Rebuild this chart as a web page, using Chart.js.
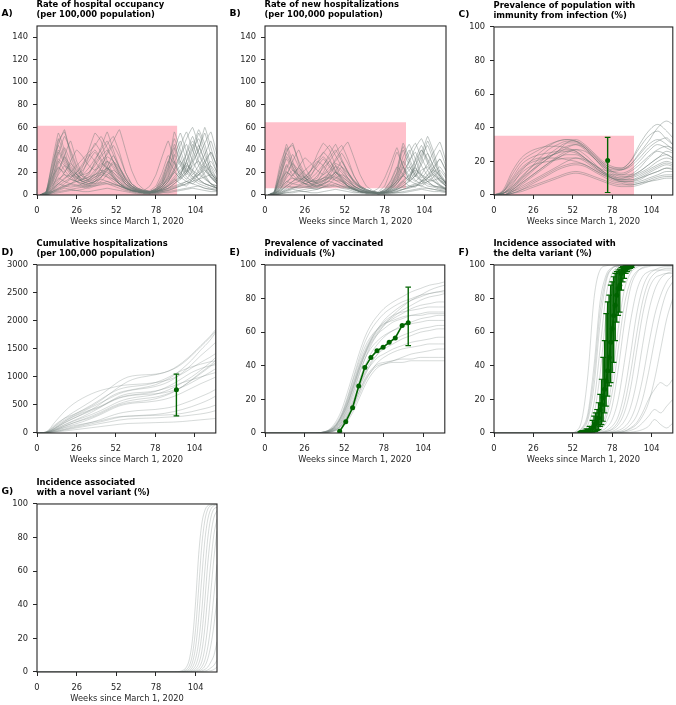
<!DOCTYPE html>
<html><head><meta charset="utf-8">
<script src="https://cdn.jsdelivr.net/npm/chart.js@4.4.1/dist/chart.umd.min.js"></script>
<style>
body{margin:0;background:#fff;width:676px;height:705px;position:relative;overflow:hidden;font-family:'DejaVu Sans',sans-serif;}
.panel{position:absolute;}
.ttl{position:absolute;font-weight:bold;font-size:8.4px;line-height:9.2px;color:#000;white-space:nowrap;}
.lbl{position:absolute;font-weight:bold;font-size:9.2px;line-height:10px;color:#000;white-space:nowrap;}
</style></head><body>
<script>
// ---------- DATA ----------
const weekTicks = [0,26,52,78,104];
const ticksRate = [0,20,40,60,80,100,120,140];
const ticksPct = [0,20,40,60,80,100];
const ticksCum = [0,500,1000,1500,2000,2500,3000];

// A) hospital occupancy
const occWeeks = [2,6,10,14,18,22,26,30,34,38,42,46,50,54,58,62,66,70,74,78,82,86,90,94,98,102,106,110,114,118];
const occShade = [0,92,0,61.5];
const occLines = [
[0,2,30,55,40,22,15,12,14,20,28,24,16,10,6,4,3,3,4,8,20,35,28,18,30,45,30,18,10,6],
[0,1,8,15,12,10,14,25,40,55,48,30,18,10,6,4,3,2,3,5,12,25,45,30,20,35,55,40,20,12],
[0,1,3,6,8,10,9,8,10,12,14,12,10,8,6,4,3,2,2,3,4,6,8,10,12,15,18,14,10,8],
[0,3,20,45,58,35,20,10,8,10,15,25,35,25,15,8,5,3,2,3,6,12,20,15,25,40,50,35,22,14],
[0,1,5,12,20,28,22,16,18,30,42,56,40,25,14,8,4,3,3,4,8,14,22,35,45,30,20,15,10,6],
[0,0,2,4,6,5,4,5,7,9,11,10,8,6,4,3,2,1,1,2,3,5,7,9,12,10,8,6,5,4],
[0,2,15,32,26,18,14,20,34,46,38,26,16,10,6,4,3,4,8,18,34,48,30,16,12,10,14,20,26,18],
[0,1,6,20,35,48,30,18,12,10,12,18,22,18,12,8,5,4,3,5,10,20,40,55,38,22,14,10,8,6],
[0,2,10,25,18,14,12,14,20,28,36,45,52,38,20,10,6,4,3,3,5,8,12,18,30,42,58,45,25,14],
[0,1,4,10,15,18,15,12,14,18,22,20,16,12,8,5,3,2,2,2,4,6,10,14,20,26,30,22,15,10],
[0,3,25,50,35,20,12,8,8,12,20,30,26,18,10,6,4,3,3,6,14,28,50,35,20,14,10,8,6,5],
[0,0,3,8,12,15,20,26,34,40,32,24,18,12,7,4,3,2,2,3,5,10,16,22,28,20,14,10,8,6],
[0,1,8,18,26,22,16,12,10,14,24,38,48,58,40,22,10,5,3,3,4,6,10,16,38,52,36,24,16,10],
[0,2,12,28,42,30,18,12,10,12,16,22,30,24,16,10,6,4,3,4,8,16,28,44,56,40,26,16,10,8],
[0,0,2,5,8,10,12,14,16,18,20,18,14,10,7,5,3,2,2,2,3,4,6,8,10,12,14,16,18,14],
[0,1,5,10,8,7,8,10,13,16,20,24,20,15,10,6,4,3,2,3,4,8,14,10,8,14,22,30,38,25],
[0,2,18,40,30,22,18,22,30,38,30,22,15,10,6,4,3,2,2,4,10,22,36,26,16,12,18,26,20,12],
[0,1,3,6,10,14,12,10,9,12,16,22,28,20,12,7,4,3,2,3,5,8,12,16,22,30,40,60,42,24],
[0,0,1,2,3,4,4,3,3,4,5,6,5,4,3,2,1,1,1,1,2,3,4,5,6,7,8,6,5,4],
[0,2,14,36,52,40,26,18,20,26,34,40,30,20,12,7,4,3,3,5,12,30,42,28,18,28,40,55,35,20],
[0,1,12,30,22,16,20,28,36,30,22,16,12,8,5,3,2,2,3,6,16,30,22,14,20,32,44,30,18,10],
[0,2,22,48,56,38,24,16,14,18,24,30,24,16,10,6,4,3,2,4,10,24,56,40,24,16,12,10,8,6],
[0,0,4,10,14,20,26,32,38,44,52,42,30,18,10,6,3,2,2,3,6,12,20,26,36,48,38,26,16,10],
[0,1,6,14,18,16,12,10,12,16,18,16,14,10,7,4,3,2,2,3,5,9,14,20,26,22,18,24,30,20],
[0,3,28,44,32,24,18,14,16,22,30,36,44,34,20,10,6,4,3,4,8,18,34,48,30,18,26,36,48,30],
[0,1,3,5,7,9,8,7,6,8,10,12,10,8,6,4,3,2,2,2,3,4,6,8,10,14,18,22,16,12],
[0,2,16,24,20,30,40,34,26,22,26,34,30,22,14,8,5,3,3,4,8,14,24,36,50,60,44,30,20,12],
[0,1,10,22,34,26,18,14,12,14,18,24,20,14,9,5,3,2,2,3,6,12,22,30,22,16,20,28,38,26],
[0,0,2,3,4,5,6,7,8,8,9,10,9,8,6,4,3,2,1,1,2,2,3,4,5,6,5,4,3,3],
[0,2,20,38,28,20,16,18,24,32,40,48,36,24,14,8,5,3,2,3,7,16,30,20,14,22,34,46,56,36]
];

// B) new hospitalizations
const newWeeks = [2,6,10,14,18,22,26,30,34,38,42,46,50,54,58,62,66,70,74,78,82,86,90,94,98,102,106,110,114,118];
const newShade = [0,92,6,64.5];
const newLines = [
[0,3,28,42,25,14,10,9,12,20,30,22,14,8,5,3,2,2,3,8,22,38,26,14,26,40,28,16,9,5],
[0,1,6,12,10,9,12,22,36,46,40,26,15,8,5,3,2,2,2,4,10,20,40,26,16,30,48,34,17,10],
[0,1,2,5,7,8,8,7,8,10,12,10,8,6,5,3,2,2,2,2,3,5,7,8,10,12,14,12,9,6],
[0,2,18,38,46,28,16,9,7,9,13,21,30,21,12,7,4,3,2,3,5,10,17,13,20,34,44,30,18,11],
[0,1,4,10,18,24,18,13,15,26,36,45,32,20,11,6,3,2,2,3,7,12,18,30,38,26,17,12,8,5],
[0,0,1,3,5,4,3,4,5,7,9,8,6,5,3,2,2,1,1,1,2,4,5,7,9,8,6,5,4,3],
[0,2,12,27,22,15,12,17,28,38,32,21,13,8,5,3,2,3,6,15,28,42,25,13,10,8,12,16,22,15],
[0,1,5,17,30,40,25,15,10,8,10,15,18,15,10,7,4,3,2,4,8,16,34,45,32,18,12,8,7,5],
[0,1,8,21,15,12,10,12,17,24,30,38,44,32,17,8,5,3,2,2,4,6,10,15,26,36,52,38,20,11],
[0,1,3,8,12,15,13,10,12,15,18,16,13,10,6,4,3,2,1,2,3,5,8,12,17,22,25,18,12,8],
[0,3,22,45,30,17,10,7,7,10,17,26,22,15,8,5,3,2,2,5,12,24,43,30,17,12,8,7,5,4],
[0,0,2,6,10,12,16,22,28,34,27,20,15,10,6,3,2,2,2,2,4,8,13,18,24,17,12,8,6,5],
[0,1,6,15,22,18,13,10,8,12,20,32,40,47,33,18,8,4,2,2,3,5,8,13,32,44,30,20,13,8],
[0,2,10,23,36,25,15,10,8,10,13,18,25,20,13,8,5,3,2,3,6,13,24,37,46,33,22,13,8,6],
[0,0,1,4,6,8,10,12,13,15,16,15,12,8,6,4,2,2,1,2,2,3,5,6,8,10,12,13,15,11],
[0,1,4,8,7,6,7,8,11,13,16,20,16,12,8,5,3,2,2,2,3,6,12,8,7,12,18,25,32,21],
[0,2,15,34,25,18,15,18,25,32,25,18,12,8,5,3,2,2,2,3,8,18,30,22,13,10,15,22,17,10],
[0,0,1,2,2,3,3,2,2,3,4,5,4,3,2,2,1,1,1,1,2,2,3,4,5,6,6,5,4,3],
[0,1,10,26,18,13,16,22,30,26,18,13,10,7,4,3,2,2,2,5,13,25,18,12,17,27,37,25,15,8],
[0,2,18,40,44,30,19,13,11,15,20,25,20,13,8,5,3,2,2,3,8,20,46,33,20,13,10,8,7,5],
[0,0,3,8,12,17,22,27,32,37,44,35,25,15,8,5,3,2,2,2,5,10,17,22,30,40,32,22,13,8],
[0,1,5,12,15,13,10,8,10,13,15,13,12,8,6,3,2,2,2,2,4,7,12,17,22,18,15,20,25,17],
[0,2,24,37,27,20,15,12,13,18,25,30,37,28,17,8,5,3,2,3,7,15,28,40,25,15,22,30,40,25],
[0,1,2,4,6,7,7,6,5,7,8,10,8,7,5,3,2,2,1,2,2,3,5,7,8,12,15,18,13,10],
[0,2,13,20,17,25,33,28,22,18,22,28,25,18,12,7,4,3,2,3,7,12,20,30,42,50,37,25,17,10],
[0,1,8,18,28,22,15,12,10,12,15,20,17,12,7,4,3,2,2,2,5,10,18,25,18,13,17,23,32,22],
[0,0,1,2,3,4,5,6,6,7,7,8,7,6,5,3,2,2,1,1,1,2,2,3,4,5,4,3,3,2],
[0,2,17,32,23,17,13,15,20,27,33,40,30,20,12,7,4,3,2,2,6,13,25,17,12,18,28,38,47,30]
];

// C) immunity from infection
const immWeeks = [0,6,12,18,24,30,36,42,48,54,60,66,72,78,84,90,96,102,108,114,118];
const immShade = [0,92.5,0,35.3];
const immLines = [
[0,1,6,14,20,25,29,32,33,32,28,22,17,14,13,15,20,26,30,28,26],
[0,0,3,8,13,18,22,26,29,30,27,22,16,12,10,11,14,18,22,24,22],
[0,2,10,18,22,24,25,26,27,26,22,17,13,10,9,10,12,15,18,20,19],
[0,0,2,5,8,11,14,17,20,22,21,18,14,11,9,9,11,14,17,19,18],
[0,1,5,10,14,18,22,26,31,33,30,25,20,17,16,20,28,35,38,33,30],
[0,0,1,3,5,7,9,11,13,14,13,11,9,7,6,6,7,9,11,12,12],
[0,3,14,22,26,28,29,29,28,26,22,18,15,14,15,18,24,30,33,30,27],
[0,1,4,9,14,19,24,28,31,31,28,23,18,14,12,12,14,18,22,26,25],
[0,0,2,6,10,14,18,22,24,24,21,17,13,10,8,8,10,13,16,18,17],
[0,2,8,15,19,21,23,25,28,30,28,23,18,15,15,18,25,32,40,44,42],
[0,1,3,7,11,15,19,23,26,27,24,19,14,10,8,7,8,10,12,14,14],
[0,0,1,2,4,6,8,10,12,13,12,10,8,6,5,5,6,8,10,11,11],
[0,2,12,20,24,27,30,32,33,32,29,24,19,16,15,17,22,28,32,34,30],
[0,1,5,11,16,20,23,25,26,25,22,18,14,12,12,14,18,23,27,29,28],
[0,0,3,7,11,15,19,22,25,27,26,22,17,13,11,11,13,16,20,22,21],
[0,1,7,13,17,19,20,21,22,22,20,16,13,11,10,12,16,22,26,24,22],
[0,0,2,4,7,10,13,16,18,19,18,15,12,9,8,8,9,12,14,16,15],
[0,1,4,10,16,22,27,30,32,32,29,24,19,16,16,20,30,38,42,38,34],
[0,2,9,16,20,22,22,22,21,20,18,15,12,10,9,9,10,12,14,16,16],
[0,0,1,3,6,9,12,15,17,18,17,14,11,8,7,6,7,8,9,10,10]
];
const immObsWeek = [75];
const immObsMean = [20.5];
const immObsLo = [1.5];
const immObsHi = [34.3];

// D) cumulative hospitalizations
const cumWeeks = [0,6,12,18,24,30,36,42,48,54,60,66,72,78,84,90,96,102,108,114,118];
const cumLines = [
[0,10,80,180,260,340,420,520,640,720,760,790,820,860,930,1020,1150,1300,1480,1650,1800],
[0,5,50,120,180,230,280,350,430,500,540,560,580,610,660,730,830,950,1080,1200,1300],
[0,20,150,260,330,400,480,580,700,820,920,980,1010,1040,1080,1150,1260,1400,1560,1720,1850],
[0,5,30,70,110,150,190,240,300,350,380,400,410,420,440,470,520,580,650,720,780],
[0,10,90,200,290,360,420,480,560,630,670,690,710,740,800,880,980,1080,1150,1200,1220],
[0,5,40,90,130,160,190,220,260,290,300,305,310,315,320,330,350,380,420,460,500],
[0,15,120,230,320,410,500,600,700,780,820,840,860,900,960,1040,1120,1180,1230,1270,1290],
[0,8,60,140,210,270,330,400,480,560,610,640,660,690,740,810,900,1000,1120,1250,1350],
[0,3,20,50,80,110,140,170,200,230,250,260,265,270,280,290,300,320,340,370,400],
[0,12,100,210,300,380,460,540,620,700,750,780,800,830,880,960,1080,1220,1380,1520,1620],
[0,6,45,100,150,200,260,330,410,480,520,540,550,570,600,650,720,800,880,950,1000],
[0,10,70,150,220,290,370,460,560,650,700,720,730,750,790,840,900,950,1000,1050,1080],
[0,4,25,60,95,130,165,200,240,280,300,310,320,330,350,380,420,470,530,600,660],
[0,20,200,380,520,620,700,760,800,840,860,870,880,900,930,980,1060,1160,1260,1350,1420],
[0,8,55,120,180,240,300,370,450,520,570,600,620,640,680,740,830,940,1060,1180,1260],
[0,3,15,35,55,75,95,115,135,155,170,175,180,185,190,195,205,220,235,250,260],
[0,10,85,180,260,330,400,470,550,620,660,680,690,700,720,760,820,900,990,1080,1150],
[0,15,130,260,370,470,570,680,800,920,1000,1030,1040,1050,1080,1140,1240,1380,1540,1700,1820]
];
const cumObsWeek = [92];
const cumObsMean = [770];
const cumObsLo = [305];
const cumObsHi = [1050];

// E) vaccinated
const vaxWeeks = [0,34,38,42,46,50,54,58,62,66,70,74,78,84,90,96,102,108,114,118];
const vaxLines = [
[0,0,0.5,1.5,4,9,17,27,38,48,56,62,67,72,76,79,81,83,84,85],
[0,0,0.2,1,2.5,6,12,20,29,37,43,47,50,53,56,58,60,61,62,62],
[0,0,0.3,1,3,7,14,24,35,45,53,59,64,70,75,79,82,85,87,88],
[0,0,0.1,0.5,1.5,4,9,16,25,33,38,41,42,43,44,44,45,45,45,45],
[0,0,0.4,1.5,4,10,19,30,41,50,57,62,66,70,72,73,74,75,75,75],
[0,0,0.2,0.8,2,5,11,19,28,36,41,45,47,50,52,54,55,56,57,57],
[0,0,0.6,2,6,13,24,36,48,58,65,70,74,78,81,84,86,88,89,90],
[0,0,0.1,0.4,1.2,3,7,13,21,29,35,39,41,43,45,47,48,49,50,50],
[0,0,0.3,1,3.5,8,16,27,38,47,54,59,62,66,68,70,71,72,72,72],
[0,0,0.2,0.8,2.5,6,13,22,32,41,48,53,57,61,64,66,68,69,70,70],
[0,0,0.5,1.8,5,11,21,33,45,55,62,67,71,75,78,80,82,83,84,84],
[0,0,0.1,0.5,1.8,4.5,10,17,25,32,37,40,41,42,42,43,43,43,43,43],
[0,0,0.3,1.2,3.5,8.5,17,28,39,48,55,60,64,68,71,74,76,77,78,78],
[0,0,0.2,0.7,2,5,10,18,27,35,42,47,51,55,58,60,62,63,64,64],
[0,0,0.4,1.4,4,9.5,18,29,40,49,56,61,65,69,73,76,79,81,82,83],
[0,0,0.1,0.4,1.5,4,8,15,23,31,37,42,45,48,50,51,52,53,53,53],
[0,0,0.3,1,3,7,15,25,36,45,51,55,58,61,63,65,66,67,67,67],
[0,0,0.5,1.6,4.5,10,20,32,43,52,58,62,65,67,69,70,70,71,71,71]
];
const vaxObsWeek = [49,53,57.5,61.5,65.5,69.5,73.5,77.5,81.5,85.5,90,94];
const vaxObsMean = [1,6.7,15,28,39,45,49,51,54,56.6,64,65.6];
const vaxErrWeek = [94];
const vaxErrLo = [52];
const vaxErrHi = [86.8];

// F) delta variant
const deltaWeeks = [0,50,54,58,62,66,70,74,78,82,86,90,94,98,102,106,110,114,118];
const deltaLines = [
[0,0,1,8,35,80,97,99.5,100,100,100,100,100,100,100,100,100,100,100],
[0,0,0.5,3,12,40,78,94,98.5,99.5,100,100,100,100,100,100,100,100,100],
[0,0,0.3,2,8,28,65,90,98,99.5,100,100,100,100,100,100,100,100,100],
[0,0,0.4,2.5,10,34,72,92,98,99.5,100,100,100,100,100,100,100,100,100],
[0,0,0.2,1,5,18,50,82,95,99,99.8,100,100,100,100,100,100,100,100],
[0,0,0.1,0.6,3,11,35,70,91,98,99.5,100,100,100,100,100,100,100,100],
[0,0,0,0.3,1.5,6,22,55,84,96,99,99.8,100,100,100,100,100,100,100],
[0,0,0,0.2,1,4,14,40,74,92,98,99.5,100,100,100,100,100,100,100],
[0,0,0,0.2,0.8,3,10,32,64,88,96,99,99.5,100,100,100,100,100,100],
[0,0,0,0.1,0.5,2,7,22,52,80,94,98,99.5,100,100,100,100,100,100],
[0,0,0,0,0.3,1,4,12,32,62,85,95,98.5,99.5,100,100,100,100,100],
[0,0,0,0,0.2,0.8,3,9,24,50,76,90,96,98,99,99.5,99.5,99.5,99.5],
[0,0,0,0,0.1,0.5,2,6,16,38,65,86,95,98.5,99.5,100,100,100,100],
[0,0,0,0,0,0.3,1,3,8,20,42,66,84,93,96,97,97,97,97],
[0,0,0,0,0,0.1,0.5,1.5,4,10,24,46,70,86,94,97,98.5,99,99],
[0,0,0,0,0,0,0.2,0.8,2.5,7,17,35,58,78,90,95,97,98,98],
[0,0,0,0,0,0,0.3,1,2,5,12,26,48,70,85,92,94,95,95],
[0,0,0,0,0,0,0.1,0.5,1,3,7,15,30,52,72,85,92,95,96],
[0,0,0,0,0,0,0,0.2,0.5,1.5,3.5,8,17,32,52,70,82,90,94],
[0,0,0,0,0,0,0,0.1,0.3,0.8,2,5,10,20,36,55,72,84,90],
[0,0,0,0,0,0,0,0,0.2,0.5,1,3,6,12,20,26,30,28,32],
[0,0,0,0,0,0,0,0,0,0.2,0.5,1.5,3,6,10,14,12,16,20],
[0,0,0,0,0,0,0,0,0,0,0.2,0.5,1,2,4,8,5,3,6],
[0,0,0,0,0,0,0,0,0.2,0.5,1,2.5,5,10,18,32,50,68,80]
];
const deltaObsWeek = [57,59,61,63,65,66,67,68,69,70,71,72,73,74,75,76,77,78,79,80,81,82,83,84,85,86,87,88,89,90,91];
const deltaObsMean = [0.3,0.6,1,1.5,3,4.5,5.5,6.5,9,13.8,17,21,26,31,37,45,54,62,70,76,82,86,88,95,96,97.5,98,98.7,99.2,99.5,99.7];
const deltaObsLo = [0,0,0,0.3,0.5,0.8,1,1.5,2,4,5,7,12,16,22,28,30,36,42,55,66,70,72,85,90,92,95,96,97,98,98.5];
const deltaObsHi = [0.8,1.5,2.5,4,7.5,10,12,14,18,23,32,45,55,71,78,82,88,90,93,95,96,97,97.5,98.5,99,99.3,99.5,99.7,99.8,99.9,100];

// G) novel variant
const novelWeeks = [0,90,94,98,100,102,104,106,108,110,112,114,116,118];
const novelLines = [
[0,0,0.5,3,8,20,42,70,88,96,99,99.5,100,100],
[0,0,0.2,1.5,4,11,26,50,75,90,97,99,99.5,100],
[0,0,0.1,0.8,2,6,15,32,56,78,91,97,99,99.5],
[0,0,0,0.4,1,3,8,18,36,60,80,92,97,98],
[0,0,0,0.2,0.5,1.5,4,10,22,42,65,82,92,96],
[0,0,0,0.1,0.3,0.8,2,5,12,26,46,66,82,91],
[0,0,0,0,0.1,0.4,1,2.5,6,14,28,48,68,84],
[0,0,0,0,0,0.2,0.5,1.2,3,7,15,28,46,64],
[0,0,0,0,0,0,0.2,0.6,1.5,3.5,8,16,28,44],
[0,0,0,0,0,0,0,0.3,0.7,1.5,3,6,10,18],
[0,0,0,0,0,0,0,0,0.3,0.6,1.2,2.5,4,7],
[0,0,0,0,0,0,0,0,0,0.2,0.4,0.8,1.5,3]
];

// ---------- STYLE / LAYOUT ----------
const GRAY = 'rgba(105,120,115,0.42)';
const GRAY_LIGHT = 'rgba(120,132,128,0.3)';
const PINK = '#ffc0cb';
const GREEN = '#006400';
const INK = '#262626';
const FONT = "'DejaVu Sans', sans-serif";
const YW = 37, XH = 32, PT = 8, PR = 4;

const panels = [
 {key:'A', left:37, top:24, w:180, h:171, ymax:150, yt:ticksRate, weeks:occWeeks, lines:occLines, shade:occShade, tension:0.1, color:GRAY,
  title:['Rate of hospital occupancy','(per 100,000 population)']},
 {key:'B', left:265, top:24, w:181, h:171, ymax:150, yt:ticksRate, weeks:newWeeks, lines:newLines, shade:newShade, tension:0.1, color:GRAY,
  title:['Rate of new hospitalizations','(per 100,000 population)']},
 {key:'C', left:494, top:25, w:180, h:170, ymax:100, yt:ticksPct, weeks:immWeeks, lines:immLines, shade:immShade, mono:true, color:GRAY,
  obs:{w:immObsWeek, m:immObsMean, lo:immObsLo, hi:immObsHi, ew:immObsWeek, line:false},
  title:['Prevalence of population with','immunity from infection (%)']},
 {key:'D', left:37, top:263, w:180, h:170, ymax:3000, yt:ticksCum, weeks:cumWeeks, lines:cumLines, mono:true, color:GRAY_LIGHT,
  obs:{w:cumObsWeek, m:cumObsMean, lo:cumObsLo, hi:cumObsHi, ew:cumObsWeek, line:false},
  title:['Cumulative hospitalizations','(per 100,000 population)']},
 {key:'E', left:265, top:263, w:181, h:170, ymax:100, yt:ticksPct, weeks:vaxWeeks, lines:vaxLines, mono:true, color:GRAY_LIGHT,
  obs:{w:vaxObsWeek, m:vaxObsMean, lo:vaxErrLo, hi:vaxErrHi, ew:vaxErrWeek, line:true},
  title:['Prevalence of vaccinated','individuals (%)']},
 {key:'F', left:494, top:263, w:180, h:170, ymax:100, yt:ticksPct, weeks:deltaWeeks, lines:deltaLines, mono:true, color:GRAY_LIGHT,
  obs:{w:deltaObsWeek, m:deltaObsMean, lo:deltaObsLo, hi:deltaObsHi, ew:deltaObsWeek, line:true},
  title:['Incidence associated with','the delta variant (%)']},
 {key:'G', left:37, top:502, w:180, h:170, ymax:100, yt:ticksPct, weeks:novelWeeks, lines:novelLines, mono:true, color:GRAY_LIGHT,
  title:['Incidence associated','with a novel variant (%)']}
];

const framePlugin = {
  id:'frame',
  afterDatasetsDraw(chart){
    const a = chart.chartArea, ctx = chart.ctx;
    ctx.save();
    ctx.strokeStyle = INK; ctx.lineWidth = 1.1;
    ctx.strokeRect(a.left, a.top, a.right - a.left, a.bottom - a.top);
    ctx.restore();
  }
};

function build(p){
  const cw = YW + p.w + PR, ch = PT + p.h + XH;
  const wrap = document.createElement('div');
  wrap.className = 'panel';
  wrap.style.left = (p.left - YW) + 'px';
  wrap.style.top = (p.top - PT) + 'px';
  wrap.style.width = cw + 'px'; wrap.style.height = ch + 'px';
  const cv = document.createElement('canvas');
  cv.width = cw; cv.height = ch;
  cv.style.width = cw + 'px'; cv.style.height = ch + 'px';
  wrap.appendChild(cv);
  document.body.appendChild(wrap);

  const t = document.createElement('div');
  t.className = 'ttl';
  t.style.left = (p.left - 0.5) + 'px';
  t.style.top = (p.top - 23.6) + 'px';
  t.innerHTML = p.title[0] + '<br>' + p.title[1];
  document.body.appendChild(t);
  const l = document.createElement('div');
  l.className = 'lbl';
  l.style.left = (p.left - 35.5) + 'px';
  l.style.top = (p.top - 16) + 'px';
  l.textContent = p.key + ')';
  document.body.appendChild(l);

  const ds = [];
  if (p.obs){
    const o = p.obs;
    const err = [];
    o.ew.forEach((w,i)=>{ err.push({x:w,y:o.lo[i]},{x:w,y:o.hi[i]},{x:w,y:null}); });
    ds.push({data:err, borderColor:GREEN, borderWidth:1.4, pointStyle:'line', pointRadius:2.8,
      pointBorderColor:GREEN, pointBorderWidth:1.2, spanGaps:false, fill:false, order:0});
    ds.push({data:o.w.map((w,i)=>({x:w,y:o.m[i]})), showLine:o.line, borderColor:GREEN, borderWidth:1.6,
      pointRadius:2.5, pointBackgroundColor:GREEN, pointBorderColor:GREEN, pointBorderWidth:0, fill:false, order:0});
  }
  p.lines.forEach(arr=>{
    ds.push({data:arr.map((v,i)=>({x:p.weeks[i], y:v})), borderColor:p.color, borderWidth:1,
      pointRadius:0, tension:p.mono?0.4:p.tension, cubicInterpolationMode:p.mono?'monotone':'default', fill:false, order:1});
  });
  if (p.shade){
    const s = p.shade;
    ds.push({data:[{x:s[0],y:s[3]},{x:s[1],y:s[3]}], borderWidth:0, borderColor:'rgba(0,0,0,0)',
      backgroundColor:PINK, fill:{value:s[2]}, pointRadius:0, order:2});
  }

  new Chart(cv, {
    type:'line',
    data:{datasets:ds},
    plugins:[framePlugin],
    options:{
      responsive:false, animation:false, events:[], devicePixelRatio:1,
      layout:{padding:{left:0, top:PT, right:PR, bottom:0}},
      plugins:{legend:{display:false}, tooltip:{enabled:false}, title:{display:false}},
      scales:{
        x:{type:'linear', min:0, max:118,
          afterBuildTicks:s=>{ s.ticks = weekTicks.map(v=>({value:v})); },
          afterFit:s=>{ s.height = XH; },
          grid:{display:true, drawOnChartArea:false, drawTicks:true, tickLength:4, color:INK, lineWidth:1},
          border:{display:false},
          ticks:{autoSkip:false, maxRotation:0, padding:7, color:INK, font:{family:FONT, size:8.3}, callback:v=>String(v)},
          title:{display:true, text:'Weeks since March 1, 2020', color:INK, font:{family:FONT, size:8.3}, padding:{top:0,bottom:0}}
        },
        y:{type:'linear', min:0, max:p.ymax,
          afterBuildTicks:s=>{ s.ticks = p.yt.map(v=>({value:v})); },
          afterFit:s=>{ s.width = YW; },
          grid:{display:true, drawOnChartArea:false, drawTicks:true, tickLength:4, color:INK, lineWidth:1},
          border:{display:false},
          ticks:{padding:5, color:INK, font:{family:FONT, size:8.3}, callback:v=>String(v)}
        }
      }
    }
  });
}
panels.forEach(build);
</script>
</body></html>
